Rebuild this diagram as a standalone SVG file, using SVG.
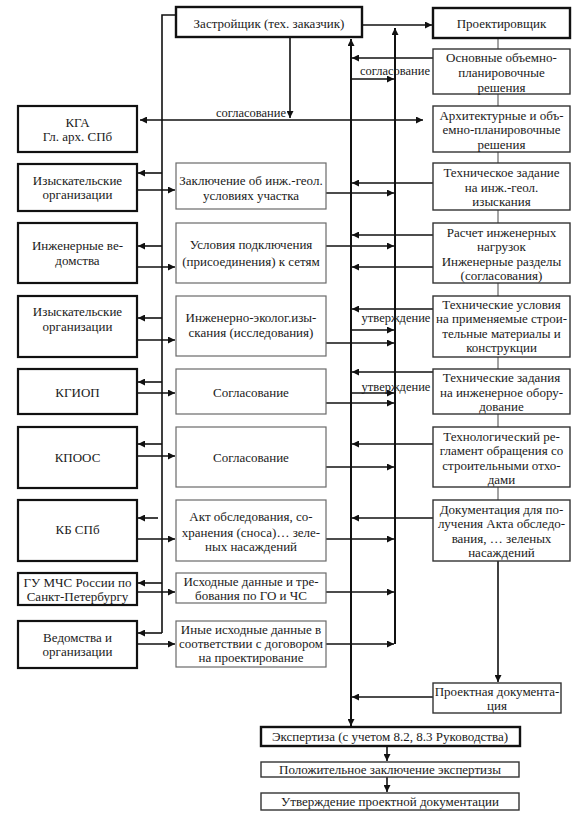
<svg xmlns="http://www.w3.org/2000/svg" width="588" height="816" viewBox="0 0 588 816" font-family="'Liberation Serif', 'DejaVu Serif', serif">
<defs>
<marker id="ah" viewBox="0 0 10 10" refX="10" refY="5" markerWidth="8" markerHeight="7" markerUnits="userSpaceOnUse" orient="auto-start-reverse"><path d="M0,0 L10,5 L0,10 z" fill="#111"/></marker>
<style>
text{font-family:'Liberation Serif', 'DejaVu Serif', serif;font-size:13px;fill:#1a1a1a;text-anchor:middle}
.lbl{font-size:12.5px}
.L{fill:#fff;stroke:#111;stroke-width:2.2}
.M{fill:#fff;stroke:#6a6a6a;stroke-width:1.2}
.R{fill:#fff;stroke:#333;stroke-width:1.4}
.T{fill:#fff;stroke:#111;stroke-width:2.4}
.c{stroke:#111;stroke-width:1.6;fill:none}
.a{stroke:#111;stroke-width:1.6;fill:none;marker-end:url(#ah)}
.v{stroke:#111;stroke-width:2;fill:none}
.g{stroke:#666;stroke-width:1.2;fill:none}
</style>
</defs>
<rect width="588" height="816" fill="#fff"/>

<g id="connectors">
<line class="g" x1="498" y1="38" x2="498" y2="561"/>
<path class="a" d="M498,561 V682"/>
<path class="a" d="M362,25 H432"/>
<path class="a" d="M290,37 V118"/>
<line class="c" x1="140" y1="120" x2="423" y2="120" marker-start="url(#ah)" marker-end="url(#ah)"/>
<path class="c" d="M175,15 H162 V633"/>
<line class="v" x1="351" y1="39" x2="351" y2="726" marker-start="url(#ah)" marker-end="url(#ah)"/>
<path class="v" d="M395,644 V28" marker-end="url(#ah)"/>
<path class="a" d="M162,173 H138"/>
<path class="a" d="M162,246 H138"/>
<path class="a" d="M162,318 H138"/>
<path class="a" d="M162,382 H138"/>
<path class="a" d="M162,444 H138"/>
<path class="a" d="M158,518 H138"/>
<path class="a" d="M162,583 H138"/>
<path class="a" d="M162,633 H138"/>
<path class="a" d="M137,190 H175"/>
<path class="a" d="M137,267 H175"/>
<path class="a" d="M133,340 H175"/>
<path class="a" d="M137,393 H175"/>
<path class="a" d="M137,456 H175"/>
<path class="a" d="M133,539 H175"/>
<path class="a" d="M137,592 H175"/>
<path class="a" d="M137,644 H175"/>
<path class="a" d="M433,58 H352"/>
<path class="a" d="M433,183 H352"/>
<path class="a" d="M433,235 H352"/>
<path class="a" d="M433,267 H352"/>
<path class="a" d="M433,309 H352"/>
<path class="a" d="M433,372 H352"/>
<path class="a" d="M433,444 H352"/>
<path class="a" d="M433,518 H352"/>
<path class="a" d="M433,697 H352"/>
<path class="a" d="M351,79 H394"/>
<path class="a" d="M351,330 H394"/>
<path class="a" d="M351,393 H394"/>
<path class="a" d="M326,193 H394"/>
<path class="a" d="M326,246 H394"/>
<path class="a" d="M326,343 H394"/>
<path class="a" d="M326,403 H394"/>
<path class="a" d="M326,467 H394"/>
<path class="a" d="M326,539 H394"/>
<path class="a" d="M326,592 H394"/>
<path class="a" d="M326,644 H394"/>
<path class="a" d="M387,746 V761"/>
<path class="a" d="M387,777 V792"/>
<text class="lbl" x="251" y="117">согласование</text>
<text class="lbl" x="395" y="75">согласование</text>
<text class="lbl" x="396" y="322">утверждение</text>
<text class="lbl" x="396" y="391">утверждение</text>
</g>

<g id="zastroyshchik"><rect class="T" x="176" y="7" width="186" height="30"/><text x="269" y="28">Застройщик (тех. заказчик)</text></g>
<g id="proektirovshchik"><rect class="T" x="433" y="8" width="137" height="30"/><text x="501.5" y="28">Проектировщик</text></g>

<g id="r1"><rect class="R" x="433" y="49" width="137" height="45"/><text x="501.5" y="62">Основные объемно-</text><text x="501.5" y="77">планировочные</text><text x="501.5" y="92">решения</text></g>
<g id="r2"><rect class="R" x="433" y="106" width="137" height="46"/><text x="501.5" y="120">Архитектурные и объ-</text><text x="501.5" y="134">емно-планировочные</text><text x="501.5" y="149">решения</text></g>
<g id="r3"><rect class="R" x="433" y="163" width="137" height="47"/><text x="501.5" y="177">Техническое задание</text><text x="501.5" y="192">на инж.-геол.</text><text x="501.5" y="206">изыскания</text></g>
<g id="r4"><rect class="R" x="433" y="223" width="137" height="60"/><text x="501.5" y="237">Расчет инженерных</text><text x="501.5" y="251">нагрузок</text><text x="501.5" y="266">Инженерные разделы</text><text x="501.5" y="280">(согласования)</text></g>
<g id="r5"><rect class="R" x="433" y="296" width="137" height="61"/><text x="501.5" y="309">Технические условия</text><text x="501.5" y="323">на применяемые строи-</text><text x="501.5" y="338">тельные материалы и</text><text x="501.5" y="352">конструкции</text></g>
<g id="r6"><rect class="R" x="433" y="369" width="137" height="45"/><text x="501.5" y="382">Технические задания</text><text x="501.5" y="397">на инженерное обору-</text><text x="501.5" y="411">дование</text></g>
<g id="r7"><rect class="R" x="433" y="427" width="137" height="60"/><text x="501.5" y="441">Технологический ре-</text><text x="501.5" y="455">гламент обращения со</text><text x="501.5" y="470">строительными отхо-</text><text x="501.5" y="484">дами</text></g>
<g id="r8"><rect class="R" x="433" y="500" width="137" height="61"/><text x="501.5" y="514">Документация для по-</text><text x="501.5" y="528">лучения Акта обследо-</text><text x="501.5" y="543">вания, … зеленых</text><text x="501.5" y="557">насаждений</text></g>
<g id="r9"><rect class="R" x="433" y="683" width="128" height="30"/><text x="497" y="696">Проектная документа-</text><text x="497" y="710">ция</text></g>

<g id="l1"><rect class="L" x="18" y="106" width="119" height="46"/><text x="77.5" y="127">КГА</text><text x="77.5" y="141">Гл. арх. СПб</text></g>
<g id="l2"><rect class="L" x="18" y="164" width="119" height="47"/><text x="77.5" y="185">Изыскательские</text><text x="77.5" y="199">организации</text></g>
<g id="l3"><rect class="L" x="18" y="223" width="119" height="60"/><text x="77.5" y="250">Инженерные ве-</text><text x="77.5" y="265">домства</text></g>
<g id="l4"><rect class="L" x="18" y="296" width="119" height="61"/><text x="77.5" y="316">Изыскательские</text><text x="77.5" y="331">организации</text></g>
<g id="l5"><rect class="L" x="18" y="369" width="119" height="45"/><text x="77.5" y="397">КГИОП</text></g>
<g id="l6"><rect class="L" x="18" y="427" width="119" height="61"/><text x="77.5" y="462">КПООС</text></g>
<g id="l7"><rect class="L" x="18" y="500" width="119" height="61"/><text x="77.5" y="534">КБ СПб</text></g>
<g id="l8"><rect class="L" x="18" y="573" width="119" height="32"/><text x="77.5" y="587">ГУ МЧС России по</text><text x="77.5" y="601">Санкт-Петербургу</text></g>
<g id="l9"><rect class="L" x="18" y="621" width="119" height="47"/><text x="77.5" y="642">Ведомства и</text><text x="77.5" y="656">организации</text></g>

<g id="m1"><rect class="M" x="176" y="163" width="150" height="46"/><text x="251" y="185">Заключение об инж.-геол.</text><text x="251" y="200">условиях участка</text></g>
<g id="m2"><rect class="M" x="176" y="223" width="150" height="60"/><text x="251" y="249">Условия подключения</text><text x="251" y="266">(присоединения) к сетям</text></g>
<g id="m3"><rect class="M" x="176" y="296" width="150" height="60"/><text x="251" y="322">Инженерно-эколог.изы-</text><text x="251" y="337">скания (исследования)</text></g>
<g id="m4"><rect class="M" x="176" y="369" width="150" height="45"/><text x="251" y="397">Согласование</text></g>
<g id="m5"><rect class="M" x="176" y="427" width="150" height="60"/><text x="251" y="462">Согласование</text></g>
<g id="m6"><rect class="M" x="176" y="500" width="150" height="61"/><text x="251" y="521">Акт обследования, со-</text><text x="251" y="537">хранения (сноса)… зеле-</text><text x="251" y="551">ных насаждений</text></g>
<g id="m7"><rect class="M" x="176" y="573" width="150" height="30"/><text x="251" y="586">Исходные данные и тре-</text><text x="251" y="600">бования по ГО и ЧС</text></g>
<g id="m8"><rect class="M" x="176" y="621" width="150" height="46"/><text x="251" y="634">Иные исходные данные в</text><text x="251" y="648">соответствии с договором</text><text x="251" y="662">на проектирование</text></g>

<g id="b1"><rect class="T" x="261" y="727" width="259" height="19"/><text x="390" y="741">Экспертиза (с учетом 8.2, 8.3 Руководства)</text></g>
<g id="b2"><rect class="R" x="261" y="762" width="258" height="15"/><text x="390" y="774">Положительное заключение экспертизы</text></g>
<g id="b3"><rect class="R" x="261" y="793" width="258" height="17"/><text x="390" y="806">Утверждение проектной документации</text></g>
</svg>
